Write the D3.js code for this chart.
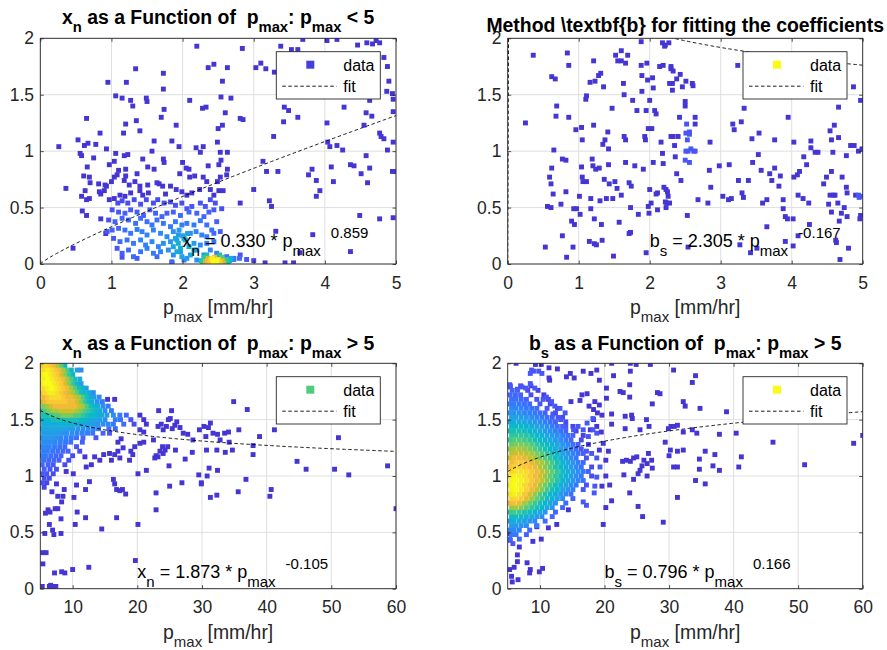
<!DOCTYPE html>
<html><head><meta charset="utf-8">
<script src="https://cdn.jsdelivr.net/npm/d3@7"></script>
<style>body{margin:0;background:#fff}svg{display:block}text{font-family:"Liberation Sans",Arial,Helvetica,sans-serif;white-space:pre}</style>
</head><body><svg id="c" width="887" height="650"></svg>
<script>
// ---------------- DATA ----------------
const yTicks = [0, 0.5, 1, 1.5, 2];
const xTicksLow = [0, 1, 2, 3, 4, 5];
const xTicksHigh = [10, 20, 30, 40, 50, 60];
const fitA = [0.330, 2.305, 1.873, 0.796];
const fitB = [0.859, -0.167, -0.105, 0.166];
const legendColor = [0.08, 1.0, 0.6, 1.0];
const annX = [2.0, 2.0, 20.0, 20.0];
const annY = [0.148, 0.148, 0.092, 0.092];
const sparseC = 0.06;

// panel 1 (x_n, p_max < 5)
const p1Sparse = [[2.20,1.93],[2.84,1.91],[3.69,1.99],[4.03,1.98],[4.17,1.99],[4.46,1.94],[4.59,1.96],[4.67,1.95],[4.72,1.98],[4.77,1.96],[3.38,1.93],[3.53,1.90],[3.62,1.90],[4.83,1.83],[4.88,1.75],[4.90,1.62],[4.87,1.53],[4.95,1.51],[4.96,1.46],[4.63,1.45],
[1.34,1.73],[1.73,1.69],[1.73,1.55],[0.95,1.61],[1.21,1.61],[2.36,1.74],[2.44,1.77],[2.63,1.74],[2.56,1.62],[3.03,1.74],[3.10,1.78],[3.17,1.73],[3.29,1.70],
[1.06,1.49],[1.15,1.47],[1.27,1.45],[1.30,1.40],[1.49,1.47],[1.50,1.44],[1.74,1.37],[2.10,1.45],[2.28,1.38],[2.33,1.39],[2.54,1.48],[2.68,1.47],[2.60,1.34],[4.27,1.39],[3.43,1.39],[3.49,1.36],[3.62,1.30],[3.42,1.26],[4.58,1.34],[4.66,1.31],[4.96,1.35],[4.55,1.23],[4.03,1.25],
[0.65,1.29],[1.35,1.27],[1.20,1.24],[1.17,1.16],[1.40,1.18],[1.70,1.30],[1.91,1.23],[2.50,1.20],[2.56,1.23],[2.81,1.29],[2.85,1.28],[0.84,1.16],[0.53,1.10],[0.62,1.05],[0.67,1.07],[0.78,1.06],[0.26,1.04],[0.93,1.02],[1.60,1.09],[1.85,1.09],[1.95,1.04],[2.19,1.03],[2.25,0.99],[2.29,1.04],[2.49,1.08],[2.53,0.99],[2.63,0.99],[3.28,1.13],[4.77,1.16],[4.79,1.13],[4.83,1.11],[4.96,1.08],[4.04,1.08],[4.07,1.04],[4.17,1.05],[4.25,1.01],[4.88,1.01],[4.58,0.96],
[0.56,0.98],[0.58,0.96],[0.75,0.94],[1.06,0.98],[1.04,0.91],[0.97,0.88],[1.18,0.96],[1.23,0.97],[1.44,0.93],[1.57,1.00],[1.73,0.93],[1.74,0.90],[2.00,0.90],[1.51,0.86],[1.60,0.84],[2.05,0.85],[2.09,0.84],[2.36,0.87],[2.51,0.88],[2.54,0.92],[2.63,0.84],[3.13,0.91],[3.18,0.82],[3.34,0.82],[3.82,0.84],[3.77,0.79],[4.09,0.86],[4.36,0.88],[4.41,0.87],[4.63,0.85],[4.51,0.80],[4.95,0.82],[4.99,0.82],[4.60,0.72],[3.88,0.74],[4.12,0.73],
[0.66,0.86],[0.61,0.78],[0.69,0.77],[0.70,0.72],[0.82,0.71],[0.91,0.70],[1.00,0.73],[1.04,0.77],[1.08,0.79],[1.10,0.83],[1.20,0.84],[1.20,0.78],[1.18,0.74],[1.25,0.70],[1.33,0.73],[1.36,0.80],[1.40,0.69],[1.51,0.70],[1.64,0.72],[1.67,0.71],[1.72,0.69],[1.83,0.69],[1.96,0.80],[2.10,0.77],[2.17,0.78],[2.29,0.77],[2.34,0.73],[2.49,0.73],[2.53,0.77],[2.62,0.79],[3.00,0.66],
[0.36,0.67],[0.63,0.65],[0.58,0.60],[0.65,0.57],[0.69,0.58],[0.83,0.64],[0.85,0.62],[0.90,0.65],[0.93,0.69],[0.97,0.57],[1.04,0.58],[1.12,0.61],[1.19,0.60],[1.27,0.63],[1.40,0.65],[1.44,0.61],[1.52,0.63],[1.76,0.62],[1.91,0.66],[1.99,0.64],[2.06,0.61],[2.13,0.63],[2.24,0.66],[2.39,0.66],[2.44,0.61],[2.51,0.65],[2.57,0.65],[2.81,0.54],[3.22,0.56],[3.25,0.51],[3.88,0.60],[3.93,0.65],[4.49,0.43],[4.77,0.40],[4.96,0.41],
[0.59,0.47],[0.65,0.43],[0.85,0.40],[0.46,0.14],[0.92,0.27],[3.31,0.29],[3.83,0.26],[3.65,0.10],[4.36,0.11],[3.16,0.01],[3.44,0.01],[3.56,0.01],[1.85,0.01]];
const p1Cluster = [
[1.09,0.54,.12],[1.15,0.56,.12],[1.23,0.54,.12],[1.32,0.57,.12],[1.41,0.53,.13],[1.49,0.57,.12],[1.59,0.54,.13],[1.65,0.57,.12],[1.74,0.54,.13],[1.83,0.55,.13],[1.90,0.52,.14],[1.99,0.54,.13],[2.06,0.49,.15],[2.13,0.51,.15],[2.25,0.54,.14],[2.32,0.51,.15],[2.39,0.57,.13],[2.46,0.54,.14],[2.55,0.49,.13],
[1.01,0.48,.14],[1.10,0.46,.16],[1.19,0.45,.17],[1.27,0.48,.16],[1.36,0.46,.17],[1.45,0.43,.18],[1.54,0.48,.17],[1.62,0.45,.18],[1.71,0.42,.19],[1.78,0.45,.18],[1.87,0.46,.18],[1.97,0.43,.2],[2.09,0.46,.19],[2.20,0.45,.19],[2.30,0.42,.2],[2.37,0.46,.18],[2.44,0.48,.16],
[0.96,0.39,.14],[1.05,0.375,.18],[1.15,0.405,.19],[1.24,0.39,.2],[1.34,0.36,.22],[1.41,0.405,.21],[1.50,0.375,.22],[1.57,0.346,.23],[1.64,0.39,.22],[1.73,0.36,.23],[1.83,0.331,.25],[1.90,0.375,.24],[1.99,0.346,.26],[2.06,0.36,.25],[2.16,0.346,.25],[2.25,0.384,.23],[2.34,0.346,.22],[2.41,0.301,.22],[2.48,0.375,.18],
[0.94,0.287,.15],[1.01,0.301,.18],[1.10,0.316,.2],[1.19,0.301,.22],[1.27,0.272,.24],[1.36,0.306,.25],[1.43,0.287,.26],[1.50,0.257,.27],[1.59,0.301,.27],[1.69,0.272,.28],[1.78,0.242,.3],[1.87,0.287,.3],[1.94,0.257,.33],[2.02,0.227,.35],[2.11,0.272,.32],[2.19,0.287,.28],[2.27,0.257,.27],[2.34,0.242,.25],[2.44,0.272,.2],[2.53,0.287,.17],
[1.03,0.227,.16],[1.12,0.198,.2],[1.22,0.213,.22],[1.31,0.183,.24],[1.41,0.213,.26],[1.48,0.168,.27],[1.57,0.198,.28],[1.66,0.154,.28],[1.73,0.183,.3],[1.83,0.198,.33],[1.92,0.213,.36],[2.16,0.183,.35],[2.25,0.168,.3],[2.34,0.183,.26],[2.44,0.198,.22],
[1.08,0.139,.15],[1.15,0.095,.17],[1.24,0.124,.2],[1.31,0.065,.2],[1.41,0.109,.23],[1.50,0.139,.25],[1.59,0.095,.24],[1.69,0.109,.26],[1.80,0.124,.3],[1.87,0.080,.3],[1.97,0.109,.35],[2.06,0.050,.33],[2.20,0.124,.33],[2.30,0.080,.3],[2.39,0.124,.27],[2.48,0.095,.25],[2.62,0.065,.22],[2.72,0.050,.2],[2.81,0.080,.15],
[1.15,0.06,.14],[1.36,0.05,.16],[1.64,0.065,.2],[1.85,0.02,.2],[2.02,0.035,.25],[2.20,0.035,.3],[2.53,0.035,.3],
[1.90,0.227,.4],[1.94,0.183,.42],[1.97,0.139,.42],[2.04,0.213,.42],[2.09,0.154,.44],[2.16,0.124,.4],[2.11,0.08,.4],[1.92,0.109,.38],[1.99,0.065,.38],[1.87,0.154,.38],[2.00,0.25,.38],[2.07,0.27,.36],[1.95,0.30,.33],
[2.26,0.03,.5],[2.30,0.06,.55],[2.32,0.02,.7],[2.36,0.05,.75],[2.38,0.01,.85],[2.40,0.04,.9],[2.43,0.02,1.0],[2.45,0.06,.8],[2.47,0.01,.95],[2.50,0.04,.9],[2.53,0.02,.85],[2.55,0.06,.6],[2.58,0.01,.7],[2.61,0.04,.55],[2.64,0.02,.5],[2.68,0.05,.4],[2.34,0.08,.5],[2.52,0.08,.5],
[2.28,0.01,.55],[2.35,0.03,.8],[2.42,0.05,.95],[2.44,0.00,.95],[2.48,0.03,1.0],[2.56,0.03,.75],[2.62,0.00,.5],[2.66,0.03,.45],
[2.72,0.04,.25],[2.80,0.05,.2],[2.90,0.04,.15],[3.00,0.03,.1]];

// panel 2 (b_s, p_max < 5)
const p2Sparse = [[0.36,1.85],[0.25,1.25],[0.53,0.15],[0.59,0.77],[0.61,0.71],[0.62,0.85],[0.65,1.01],[0.64,0.62],[0.56,0.51],[0.61,0.50],[0.62,1.66],[0.67,1.64],[0.69,1.40],[0.68,1.31],[0.75,0.53],[0.77,0.25],[0.77,0.93],[0.82,0.92],[0.82,0.64],[0.83,0.06],[0.84,1.87],[0.86,1.76],[0.86,1.30],[0.90,0.38],[0.93,0.49],[0.92,0.15],[0.94,0.35],[0.96,1.19],[0.97,0.49],[1.01,0.60],[1.02,0.44],[1.04,1.21],[1.05,1.10],[1.05,0.77],[1.04,0.86],[1.06,0.73],[1.11,0.73],[1.10,1.46],[1.11,1.49],[1.16,1.61],[1.17,0.58],[1.17,0.49],[1.15,0.20],[1.19,0.93],[1.20,0.87],[1.21,1.80],[1.21,1.23],[1.22,0.40],[1.22,0.18],[1.23,1.62],[1.24,0.84],[1.25,0.17],[1.28,1.67],[1.29,0.85],[1.31,1.69],[1.30,0.56],[1.32,0.35],[1.33,0.21],[1.34,1.06],[1.35,1.57],[1.37,1.10],[1.36,0.75],[1.39,0.58],[1.41,1.17],[1.43,0.71],[1.42,0.88],[1.42,1.02],[1.47,1.38],[1.48,0.58],[1.49,0.07],[1.51,0.73],[1.54,0.67],[1.52,1.85],[1.55,1.80],[1.60,1.89],[1.60,1.80],[1.69,1.85],[1.66,1.78],[1.63,1.60],[1.64,1.50],[1.64,1.13],[1.66,1.10],[1.57,0.37],[1.60,0.61],[1.66,0.90],[1.71,0.72],[1.74,0.69],[1.73,0.50],[1.73,0.28],[1.71,0.27],[1.76,1.45],[1.79,0.87],[1.82,1.36],[1.84,0.44],[1.88,1.97],[1.88,1.76],[1.89,1.53],[1.89,1.67],[1.91,0.84],[1.93,1.13],[1.94,1.10],[1.95,1.36],[1.96,1.78],[1.97,1.63],[1.95,0.10],[1.98,1.20],[2.00,1.45],[1.98,0.51],[1.99,0.45],[2.00,0.66],[2.03,1.20],[2.04,1.65],[2.05,1.56],[2.05,0.90],[2.02,0.54],[2.07,1.36],[2.09,1.33],[2.11,0.48],[2.09,0.62],[2.11,0.63],[2.14,1.75],[2.16,1.08],[2.18,0.98],[2.19,0.89],[2.18,1.96],[2.22,1.94],[2.27,1.96],[2.19,1.76],[2.21,1.93],[2.20,0.68],[2.23,0.66],[2.25,0.64],[2.23,0.50],[2.22,0.55],[2.24,0.54],[2.26,0.60],[2.28,0.54],[2.30,1.75],[2.30,1.73],[2.33,1.71],[2.32,1.60],[2.32,1.54],[2.28,1.60],[2.38,1.64],[2.43,1.68],[2.46,1.57],[2.51,1.62],[2.60,1.60],[2.61,1.58],[2.30,1.13],[2.33,1.13],[2.40,1.13],[2.35,1.05],[2.36,0.95],[2.38,0.80],[2.44,0.74],[2.42,1.30],[2.50,1.44],[2.50,1.40],[2.53,0.43],[2.54,0.15],[2.64,1.30],[2.64,1.24],[2.68,0.57],[2.82,0.54],[2.84,0.83],[2.85,1.08],[2.86,0.68],[2.98,0.87],[3.03,0.60],[3.11,0.57],[3.12,0.88],[3.15,0.58],[3.17,1.24],[3.19,1.19],[3.24,1.76],[3.25,0.74],[3.27,0.17],[3.29,1.26],[3.30,0.63],[3.32,0.59],[3.33,1.38],[3.39,0.74],[3.42,0.10],[3.44,1.11],[3.45,0.90],[3.51,0.14],[3.53,0.97],[3.54,1.16],[3.57,0.83],[3.59,0.54],[3.65,0.33],[3.65,0.57],[3.69,0.80],[3.72,0.74],[3.76,0.85],[3.76,1.10],[3.82,0.69],[3.84,0.78],[3.88,0.57],[3.88,0.49],[3.91,0.42],[3.94,0.40],[3.95,1.30],[4.02,0.40],[3.91,0.20],[4.02,0.16],[4.03,1.08],[4.03,0.77],[4.08,0.79],[4.11,0.82],[4.09,0.61],[4.09,0.25],[4.16,0.58],[4.17,0.95],[4.21,0.88],[4.24,0.54],[4.25,0.35],[4.27,1.09],[4.27,1.03],[4.33,0.99],[4.37,0.99],[4.45,0.71],[4.49,0.77],[4.52,0.53],[4.54,1.18],[4.56,1.10],[4.56,0.82],[4.54,0.61],[4.59,0.61],[4.61,0.61],[4.56,0.46],[4.60,1.23],[4.58,0.99],[4.62,0.21],[4.63,0.19],[4.66,1.39],[4.66,1.12],[4.65,0.54],[4.67,0.38],[4.68,0.04],[4.70,0.45],[4.71,0.77],[4.74,0.50],[4.77,0.96],[4.77,0.68],[4.78,0.63],[4.78,0.42],[4.80,0.14],[4.83,1.05],[4.87,1.57],[4.88,1.05],[4.90,0.61],[4.94,1.00],[4.97,1.45],[4.97,0.43],[4.99,1.02],[4.96,0.40]];
const p2Light = [[2.53,1.10],[2.51,1.16],[2.56,1.15],[2.56,1.17],[2.51,1.00],[2.54,1.00],[2.58,1.02],[2.62,1.00],[2.64,1.00],[2.50,0.92],[2.56,0.90],[2.52,1.24],[4.94,0.61],[4.95,0.59],[4.98,0.60]];

// panel 3 (x_n, p_max > 5)
const p3Sparse = [[34.9,1.66],[37.0,1.59],[23.3,1.58],[25.3,1.58],[15.4,1.68],[16.5,1.68],[41.2,1.41],[35.7,1.41],[51.1,1.34],[38.9,1.35],[37.9,1.27],[37.9,1.19],[44.7,1.13],[46.1,1.06],[50.5,1.06],[52.7,1.01],[58.7,1.09],[60.0,0.71],[36.8,0.97],[40.7,0.88],[40.5,0.82],[35.6,0.86],[32.3,0.83],[31.3,0.81],[29.9,0.94],[29.9,0.93],[29.5,1.01],[30.8,1.00],[31.1,1.07],[32.4,1.05],[26.9,0.94],[25.0,0.91],[22.9,0.85],[22.9,0.70],[21.4,1.05],[20.1,1.02],[24.9,1.09],[20.1,0.57],[19.7,0.25],[14.5,0.53],[16.8,0.63],[12.5,0.19],[10.0,0.17],[8.8,0.14],[8.3,0.15],[7.2,0.14],[5.3,0.02],[6.4,0.02],[6.9,0.02],[7.4,0.02],[6.6,0.03],[5.4,0.22],[5.3,0.32],[5.9,0.32],[5.7,0.49],[7.1,0.48],[8.2,0.49],[6.9,0.52],[6.4,0.57],[8.2,0.62],[5.8,0.67],[6.2,0.70],[6.5,0.68],[7.3,0.71],[7.7,0.71],[10.4,0.57],[10.7,0.68],[12.0,0.63],[10.2,0.81],[8.3,0.77],[8.5,0.82],[7.7,0.82],[6.8,0.86],[8.7,0.88],[7.5,0.93],[10.6,0.92],[12.0,0.88],[12.6,0.95],[16.3,0.97],[16.5,0.93],[16.8,0.88],[17.3,0.87],[17.7,0.88],[18.2,0.84],[10.1,1.02],[9.0,1.04],
[22.5,1.32],[22.9,1.18],[23.2,1.17],[23.5,1.22],[23.9,1.26],[24.0,1.20],[24.3,1.23],[24.7,1.26],[24.0,1.41],[23.2,1.44],[23.7,1.46],[24.5,1.44],[24.8,1.50],[25.1,1.51],[25.4,1.42],[25.8,1.45],[26.1,1.48],[26.6,1.43],[27.1,1.38],[27.8,1.37],[28.6,1.32],[29.6,1.41],[30.3,1.44],[31.0,1.43],[31.3,1.47],[30.6,1.35],[31.7,1.38],[32.4,1.37],[32.8,1.32],[33.5,1.38],[34.1,1.39],[34.2,1.30],[34.7,1.23],[33.6,1.21],[32.3,1.23],[30.7,1.23],[28.5,1.21],[27.4,1.15],[25.9,1.23],[22.7,1.16],
[19.0,1.22],[18.8,1.14],[19.3,1.19],[19.6,1.26],[20.4,1.29],[21.0,1.30],[20.4,1.41],[21.0,1.39],[20.4,1.54],[21.0,1.50],[21.4,1.46],
[15.7,1.20],[16.5,1.19],[17.0,1.22],[17.3,1.16],[16.0,1.14],[14.8,1.19],[14.2,1.14],[13.4,1.17],[12.9,1.10],[12.1,1.08],[11.9,1.17],[17.0,1.30],[17.8,1.25],[17.5,1.33]];
// dense part of panel 3: [y, x, c, x, c, ...]
const p3Rows = [
[1.98, 5.2,.85, 5.8,.9, 6.4,.85, 7.0,.8, 7.6,.7, 8.2,.6, 8.8,.45],
[1.94, 5.5,.9, 6.1,.95, 6.7,.9, 7.3,.85, 7.9,.8, 8.5,.7, 9.1,.6, 9.8,.45, 10.7,.35, 11.3,.3],
[1.90, 5.2,.95, 5.8,1, 6.4,.95, 7.0,.9, 7.6,.85, 8.2,.75, 8.8,.65, 9.4,.55, 10.0,.45],
[1.86, 5.5,.95, 6.1,1, 6.7,.95, 7.3,.9, 7.9,.85, 8.5,.8, 9.1,.7, 9.7,.6, 10.3,.5, 11.1,.4],
[1.82, 5.2,.95, 5.8,1, 6.4,1, 7.0,.95, 7.6,.9, 8.2,.85, 8.8,.75, 9.4,.65, 10.0,.55, 10.6,.45, 11.3,.35],
[1.78, 5.5,.9, 6.1,.95, 6.7,1, 7.3,.95, 7.9,.9, 8.5,.85, 9.1,.8, 9.7,.7, 10.3,.6, 10.9,.5, 11.5,.45, 12.1,.35],
[1.74, 5.2,.85, 5.8,.9, 6.4,.95, 7.0,.95, 7.6,.9, 8.2,.85, 8.8,.8, 9.4,.75, 10.0,.7, 10.6,.6, 11.2,.5, 11.8,.45, 12.5,.4, 13.2,.3],
[1.70, 5.5,.8, 6.1,.85, 6.7,.9, 7.3,.9, 7.9,.9, 8.5,.85, 9.1,.8, 9.7,.8, 10.3,.75, 10.9,.7, 11.5,.6, 12.1,.5, 12.7,.4, 13.3,.35, 14.1,.3],
[1.66, 5.2,.75, 5.8,.8, 6.4,.85, 7.0,.85, 7.6,.85, 8.2,.85, 8.8,.85, 9.4,.8, 10.0,.8, 10.6,.75, 11.2,.65, 11.8,.55, 12.4,.45, 13.0,.4, 13.8,.3, 14.6,.25],
[1.62, 5.5,.65, 6.1,.7, 6.7,.75, 7.3,.8, 7.9,.8, 8.5,.8, 9.1,.8, 9.7,.8, 10.3,.8, 10.9,.75, 11.5,.7, 12.1,.6, 12.7,.5, 13.3,.45, 13.9,.4, 14.7,.3, 15.5,.25],
[1.58, 5.2,.55, 5.8,.6, 6.4,.65, 7.0,.7, 7.6,.7, 8.2,.75, 8.8,.75, 9.4,.75, 10.0,.75, 10.6,.7, 11.2,.65, 11.8,.6, 12.4,.55, 13.0,.5, 13.6,.45, 14.2,.4, 15.0,.3, 16.0,.25],
[1.54, 5.5,.5, 6.1,.5, 6.7,.55, 7.3,.6, 7.9,.6, 8.5,.65, 9.1,.65, 9.7,.65, 10.3,.6, 10.9,.6, 11.5,.55, 12.1,.5, 12.7,.45, 13.3,.45, 13.9,.4, 14.5,.4, 15.3,.35, 16.3,.3, 17.3,.25, 18.3,.2],
[1.50, 5.2,.45, 5.8,.45, 6.4,.45, 7.0,.5, 7.6,.5, 8.2,.5, 8.8,.5, 9.4,.5, 10.0,.5, 10.6,.5, 11.2,.45, 11.8,.45, 12.4,.4, 13.0,.4, 13.6,.38, 14.2,.35, 15.0,.3, 16.6,.25, 17.4,.22, 19.0,.15],
[1.46, 5.5,.4, 6.1,.4, 6.7,.4, 7.3,.4, 7.9,.42, 8.5,.42, 9.1,.42, 9.7,.42, 10.3,.4, 10.9,.4, 11.5,.4, 12.1,.38, 12.7,.35, 13.3,.35, 13.9,.32, 14.7,.3, 15.5,.28, 16.3,.25, 17.9,.2, 19.5,.12],
[1.42, 5.2,.38, 5.8,.38, 6.4,.38, 7.0,.38, 7.6,.38, 8.2,.38, 8.8,.36, 9.4,.35, 10.0,.35, 10.8,.32, 11.6,.3, 12.4,.3, 13.2,.28, 14.0,.25, 15.6,.2, 16.6,.18],
[1.38, 5.5,.35, 6.1,.35, 6.7,.35, 7.3,.35, 7.9,.34, 8.5,.32, 9.1,.3, 9.9,.3, 10.7,.28, 11.5,.26, 12.3,.25, 13.1,.22, 14.7,.18, 15.7,.15],
[1.34, 5.2,.32, 5.8,.33, 6.4,.33, 7.0,.32, 7.6,.3, 8.2,.28, 9.0,.26, 9.8,.25, 10.6,.22, 11.6,.2, 13.6,.15],
[1.30, 5.5,.3, 6.1,.3, 6.7,.3, 7.3,.28, 8.1,.26, 8.9,.24, 9.7,.22, 11.5,.18],
[1.26, 5.2,.28, 5.8,.28, 6.4,.27, 7.2,.25, 8.0,.22, 8.8,.2, 10.6,.15],
[1.22, 5.5,.26, 6.1,.26, 6.9,.24, 7.7,.22, 8.5,.2, 9.3,.18, 11.1,.12],
[1.18, 5.2,.25, 5.8,.24, 6.6,.22, 7.4,.2, 8.2,.18, 10.0,.12],
[1.14, 5.5,.22, 6.3,.2, 7.1,.2, 7.9,.18, 9.4,.12],
[1.10, 5.3,.2, 6.2,.18, 7.0,.16, 8.8,.12],
[1.06, 5.6,.18, 6.5,.16, 7.5,.14],
[1.02, 5.3,.16, 6.0,.15, 7.0,.12],
[0.98, 5.6,.14, 6.4,.12],
[0.94, 5.3,.12, 6.0,.1],
[0.90, 5.6,.1]];

// panel 4 (b_s, p_max > 5)
const p4Sparse = [[6.3,2.0],[9.3,1.99],[10.2,1.99],[11.4,1.96],[12.7,1.95],[11.4,1.87],[11.5,1.85],[14.1,1.88],[14.7,1.91],[15.3,1.87],[16.7,1.93],[17.9,1.91],[18.8,1.94],[19.2,1.85],[20.3,1.78],[21.4,1.89],[21.1,2.0],[24.0,2.0],[24.0,1.93],[24.9,1.99],[27.1,1.99],[30.7,1.94],[34.1,1.89],[33.6,1.83],[23.9,1.81],[22.4,1.75],[22.9,1.74],[23.9,1.70],[20.3,1.69],[19.6,1.54],[21.1,1.55],[21.1,1.46],[23.2,1.53],[24.2,1.54],[24.3,1.51],[26.5,1.50],[26.9,1.44],[23.2,1.42],[25.5,1.41],[27.4,1.64],[28.2,1.74],[28.6,1.73],[32.2,1.66],[32.5,1.62],[34.8,1.60],[38.9,1.57],[29.4,1.30],[29.9,1.42],[30.3,1.44],[30.8,1.44],[31.3,1.45],[32.2,1.39],[33.6,1.41],[34.3,1.38],[37.8,1.37],[40.4,1.38],[46.1,1.30],[58.6,1.29],[60.0,1.36],[51.0,1.10],[41.2,1.17],[40.8,1.08],[37.8,1.05],[36.8,1.09],[37.1,1.19],[35.6,1.22],[34.7,1.15],[34.7,1.06],[34.1,0.96],[35.6,0.93],[31.3,1.22],[32.2,1.23],[30.0,1.18],[30.2,1.23],[30.7,1.08],[31.3,1.08],[31.3,0.81],[29.1,0.59],[25.9,0.64],[25.2,0.73],[23.9,0.85],[24.5,0.97],[23.0,1.01],[25.2,1.02],[25.5,1.05],[25.8,1.09],[26.1,1.14],[26.6,1.11],[26.8,1.20],[27.3,1.14],[27.4,1.07],[26.6,1.00],[25.0,1.17],[24.5,1.16],[24.0,1.13],[23.4,1.14],[22.8,1.13],[19.8,0.57],[20.2,0.72],[21.1,0.78],[19.6,0.91],[20.8,0.92],[20.2,1.00],[20.2,1.14],[20.6,1.22],
[14.8,1.66],[16.2,1.67],[16.5,1.72],[17.3,1.73],[17.6,1.62],[18.5,1.66],[18.3,1.59],[18.9,1.56],[19.2,1.63],[18.3,1.50],[17.8,1.41],[18.8,1.44],[19.5,1.39],[19.8,1.29],[19.2,1.23],
[5.3,0.17],[6.0,0.19],[5.6,0.11],[5.7,0.06],[6.6,0.08],[6.5,0.24],[6.5,0.30],[6.8,0.37],[8.0,0.23],[8.4,0.14],[8.5,0.17],[9.9,0.15],[10.4,0.18],[8.9,0.42],[10.2,0.44],[5.4,0.43],[5.1,0.49],[9.5,0.55],[11.3,0.54],[12.6,0.57],[14.4,0.70]];
const p4Light = [[16.7,0.77],[17.2,0.74],[18.5,0.91],[18.4,0.85],[18.8,0.99],[19.3,1.08],[18.8,1.16],[18.0,1.20],[17.2,1.22],[17.5,1.35],[16.7,1.41],[15.9,1.44],[15.2,1.41],[18.2,1.41],[18.8,1.38],[17.3,1.47],[18.2,1.51],[5.3,1.81],[5.4,1.79],[6.5,1.77],[7.2,1.79],[7.8,1.78],[8.5,1.82],[9.2,1.78],[8.7,1.94],[9.0,1.93],[9.8,1.93],[8.5,1.91],[10.3,1.91],[10.5,1.68],[11.0,1.70],[11.8,1.66],[12.3,1.62],[13.1,1.60],[13.9,1.56],[13.2,1.50],[14.0,1.44],[12.0,1.55],[12.8,1.52]];
const p4Rows = [
[1.80, 5.4,.15, 7.0,.12, 8.6,.1],
[1.76, 5.7,.18, 6.5,.18, 8.1,.12, 9.7,.1],
[1.72, 5.4,.2, 6.2,.2, 7.0,.18, 8.6,.12, 10.6,.08],
[1.68, 5.6,.22, 6.3,.22, 7.1,.2, 7.9,.18, 9.5,.14, 11.3,.1],
[1.64, 5.3,.25, 6.0,.25, 6.8,.24, 7.6,.22, 8.4,.2, 10.0,.15, 11.6,.1],
[1.60, 5.6,.28, 6.3,.28, 7.1,.27, 7.9,.25, 8.7,.23, 9.5,.2, 11.1,.15, 12.7,.1],
[1.56, 5.3,.32, 6.0,.32, 6.8,.3, 7.6,.28, 8.4,.26, 9.2,.24, 10.0,.22, 10.8,.18, 12.4,.12],
[1.52, 5.6,.36, 6.3,.36, 7.1,.35, 7.9,.33, 8.7,.3, 9.5,.28, 10.3,.25, 11.1,.22, 11.9,.18, 13.5,.12],
[1.48, 5.3,.4, 6.0,.4, 6.8,.4, 7.6,.38, 8.4,.35, 9.2,.32, 10.0,.3, 10.8,.26, 11.6,.22, 12.4,.18, 14.0,.12],
[1.44, 5.6,.45, 6.3,.46, 7.1,.45, 7.9,.43, 8.7,.4, 9.5,.37, 10.3,.34, 11.1,.3, 11.9,.26, 12.7,.22, 13.5,.18, 15.1,.1],
[1.40, 5.3,.5, 6.0,.5, 6.8,.5, 7.6,.48, 8.4,.45, 9.2,.42, 10.0,.38, 10.8,.34, 11.6,.3, 12.4,.26, 13.2,.22, 14.0,.18, 15.6,.1],
[1.36, 5.6,.54, 6.3,.55, 7.1,.55, 7.9,.53, 8.7,.5, 9.5,.46, 10.3,.42, 11.1,.38, 11.9,.34, 12.7,.3, 13.5,.26, 14.3,.22, 15.1,.18, 16.7,.1],
[1.32, 5.3,.58, 6.0,.6, 6.8,.6, 7.6,.58, 8.4,.55, 9.2,.5, 10.0,.46, 10.8,.42, 11.6,.38, 12.4,.34, 13.2,.3, 14.0,.25, 14.8,.2, 16.4,.12],
[1.28, 5.6,.62, 6.3,.65, 7.1,.65, 7.9,.63, 8.7,.6, 9.5,.55, 10.3,.5, 11.1,.46, 11.9,.42, 12.7,.38, 13.5,.33, 14.3,.28, 15.1,.22, 15.9,.18, 17.5,.1],
[1.24, 5.3,.68, 6.0,.7, 6.8,.7, 7.6,.68, 8.4,.65, 9.2,.6, 10.0,.55, 10.8,.5, 11.6,.45, 12.4,.4, 13.2,.35, 14.0,.3, 14.8,.25, 15.6,.2, 16.4,.15],
[1.20, 5.6,.72, 6.3,.75, 7.1,.75, 7.9,.72, 8.7,.7, 9.5,.65, 10.3,.6, 11.1,.55, 11.9,.5, 12.7,.44, 13.5,.38, 14.3,.32, 15.1,.27, 15.9,.22, 16.7,.17],
[1.16, 5.3,.76, 6.0,.8, 6.8,.8, 7.6,.78, 8.4,.74, 9.2,.7, 10.0,.65, 10.8,.6, 11.6,.54, 12.4,.48, 13.2,.42, 14.0,.35, 14.8,.3, 15.6,.24, 17.2,.14],
[1.12, 5.6,.8, 6.3,.85, 7.1,.85, 7.9,.82, 8.7,.78, 9.5,.74, 10.3,.7, 11.1,.64, 11.9,.58, 12.7,.5, 13.5,.44, 14.3,.38, 15.1,.32, 15.9,.26, 16.7,.2],
[1.08, 5.3,.84, 6.0,.88, 6.8,.88, 7.6,.85, 8.4,.82, 9.2,.78, 10.0,.72, 10.8,.66, 11.6,.6, 12.4,.52, 13.2,.46, 14.0,.4, 14.8,.34, 15.6,.28, 16.4,.22, 18.0,.12],
[1.04, 5.6,.88, 6.3,.92, 7.1,.92, 7.9,.9, 8.7,.85, 9.5,.8, 10.3,.74, 11.1,.68, 11.9,.62, 12.7,.55, 13.5,.48, 14.3,.42, 15.1,.35, 15.9,.3, 16.7,.24, 17.5,.18],
[1.00, 5.3,.93, 6.0,.97, 6.8,.96, 7.6,.92, 8.4,.86, 9.2,.8, 10.0,.75, 10.8,.68, 11.6,.62, 12.4,.55, 13.2,.48, 14.0,.42, 14.8,.35, 15.6,.3, 16.4,.24, 18.0,.12],
[0.96, 5.6,.97, 6.3,1, 7.1,.97, 7.9,.92, 8.7,.85, 9.5,.8, 10.3,.74, 11.1,.66, 11.9,.6, 12.7,.52, 13.5,.45, 14.3,.4, 15.1,.33, 15.9,.28, 16.7,.22],
[0.92, 5.3,.98, 6.0,1, 6.8,.97, 7.6,.9, 8.4,.84, 9.2,.78, 10.0,.7, 10.8,.63, 11.6,.56, 12.4,.48, 13.2,.42, 14.0,.36, 14.8,.3, 15.6,.24, 17.2,.14],
[0.88, 5.6,.97, 6.3,1, 7.1,.95, 7.9,.88, 8.7,.8, 9.5,.74, 10.3,.66, 11.1,.58, 11.9,.5, 12.7,.44, 13.5,.38, 14.3,.32, 15.1,.26, 16.7,.15],
[0.84, 5.3,.93, 6.0,.96, 6.8,.92, 7.6,.85, 8.4,.76, 9.2,.68, 10.0,.6, 10.8,.52, 11.6,.46, 12.4,.4, 13.2,.34, 14.0,.28, 14.8,.22],
[0.80, 5.6,.88, 6.3,.9, 7.1,.86, 7.9,.78, 8.7,.7, 9.5,.62, 10.3,.55, 11.1,.48, 11.9,.42, 12.7,.36, 13.5,.3, 15.1,.18],
[0.76, 5.3,.8, 6.0,.82, 6.8,.78, 7.6,.7, 8.4,.63, 9.2,.56, 10.0,.5, 10.8,.44, 11.6,.38, 12.4,.32, 14.0,.2],
[0.72, 5.6,.68, 6.3,.7, 7.1,.66, 7.9,.6, 8.7,.55, 9.5,.5, 10.3,.44, 11.1,.38, 11.9,.32, 13.5,.2],
[0.68, 5.3,.56, 6.0,.58, 6.8,.56, 7.6,.52, 8.4,.48, 9.2,.43, 10.0,.38, 10.8,.32, 12.4,.2],
[0.64, 5.6,.46, 6.3,.48, 7.1,.46, 7.9,.42, 8.7,.38, 9.5,.34, 10.3,.3, 11.9,.2],
[0.60, 5.3,.38, 6.0,.4, 6.8,.38, 7.6,.35, 8.4,.32, 9.2,.28, 10.8,.2],
[0.56, 5.6,.33, 6.3,.33, 7.1,.32, 7.9,.3, 9.5,.24],
[0.52, 5.3,.28, 6.0,.28, 6.8,.26, 8.4,.2],
[0.48, 5.6,.24, 6.3,.24, 7.9,.18],
[0.44, 5.3,.2, 6.8,.18],
[0.40, 5.8,.15]];

// parula colormap stops (MATLAB)
const parula = [[0.2422,0.1504,0.6603],[0.2706,0.2147,0.8364],[0.2813,0.3006,0.9414],[0.2699,0.3892,0.9906],[0.1963,0.4847,0.9892],[0.1687,0.5703,0.9359],[0.1248,0.6459,0.8883],[0.0297,0.7082,0.8163],[0.0964,0.7500,0.7120],[0.2161,0.7843,0.5923],[0.3909,0.8029,0.4354],[0.6174,0.7876,0.2612],[0.8203,0.7498,0.1535],[0.9728,0.7298,0.2394],[0.9892,0.8136,0.1885],[0.9597,0.9135,0.1423],[0.9769,0.9839,0.0805]];

// ---------------- BUILD ----------------
const pts = (arr, c) => arr.map(d => ({x:d[0], y:d[1], c: d.length > 2 ? d[2] : c}));
const rows = arr => arr.flatMap(r => { const o=[]; for (let i=1;i<r.length;i+=2) o.push({x:r[i], y:r[0], c:r[i+1]}); return o; });

const panelData = [
  pts(p1Sparse, sparseC).concat(pts(p1Cluster)),
  pts(p2Sparse, sparseC).concat(pts(p2Light, 0.15)),
  pts(p3Sparse, sparseC).concat(rows(p3Rows)),
  pts(p4Sparse, sparseC).concat(pts(p4Light, 0.15), rows(p4Rows))
];

const sub = t => ({t, sub:true});
const sup = (t, dx) => ({t, sup:true, dx});
const titles = [
  [{t:'x'}, sub('n'), {t:' as a Function of  p'}, sub('max'), {t:': p'}, sub('max'), {t:' < 5'}],
  [{t:'Method \\textbf{b} for fitting the coefficients'}],
  [{t:'x'}, sub('n'), {t:' as a Function of  p'}, sub('max'), {t:': p'}, sub('max'), {t:' > 5'}],
  [{t:'b'}, sub('s'), {t:' as a Function of  p'}, sub('max'), {t:': p'}, sub('max'), {t:' > 5'}]
];
const annText = [
  [{t:'x'}, sub('n'), {t:' = 0.330 * p'}, sub('max'), sup('0.859', 10)],
  [{t:'b'}, sub('s'), {t:' = 2.305 * p'}, sub('max'), sup('-0.167', 10)],
  [{t:'x'}, sub('n'), {t:' = 1.873 * p'}, sub('max'), sup('-0.105', 10)],
  [{t:'b'}, sub('s'), {t:' = 0.796 * p'}, sub('max'), sup('0.166', 10)]
];
const xLabel = [{t:'p'}, sub('max'), {t:' [mm/hr]'}];

const layout = [
  {L:40.3, R:396, T:38.3, B:264, xd:[0,5], xt:xTicksLow, titleY:24},
  {L:507.7, R:862.7, T:38.3, B:264, xd:[0,5], xt:xTicksLow, titleY:32.3},
  {L:40.3, R:396, T:363.3, B:588.7, xd:[5,60], xt:xTicksHigh, titleY:349.5},
  {L:507.7, R:862.7, T:363.3, B:588.7, xd:[5,60], xt:xTicksHigh, titleY:349.5}
];

const color = d3.scaleLinear()
  .domain(parula.map((d,i) => i/(parula.length-1)))
  .range(parula.map(d => d3.rgb(d[0]*255, d[1]*255, d[2]*255).toString()))
  .interpolate(d3.interpolateRgb).clamp(true);

const svg = d3.select('#c');
const AX = '#262626', GRID = '#dfdfdf';

function rich(g, x, y, segs, o) {
  const t = g.append('text').attr('x', x).attr('y', y)
    .attr('font-size', o.size).attr('font-weight', o.weight || 'normal')
    .attr('text-anchor', o.anchor || 'start').attr('fill', o.fill || '#000');
  let cur = 0;
  segs.forEach(s => {
    const sh = s.sub ? o.subShift : (s.sup ? -o.supShift : 0);
    const ts = t.append('tspan').text(s.t).attr('dy', sh - cur);
    if (s.sub || s.sup) ts.attr('font-size', o.subSize);
    if (s.dx) ts.attr('dx', s.dx);
    cur = sh;
  });
  return t;
}

layout.forEach((P, i) => {
  const g = svg.append('g');
  const x = d3.scaleLinear().domain(P.xd).range([P.L, P.R]);
  const y = d3.scaleLinear().domain([0, 2]).range([P.B, P.T]);

  g.append('g').selectAll('line').data(P.xt).join('line')
    .attr('x1', d => x(d)).attr('x2', d => x(d)).attr('y1', P.T).attr('y2', P.B)
    .attr('stroke', GRID).attr('stroke-width', 1);
  g.append('g').selectAll('line').data(yTicks).join('line')
    .attr('x1', P.L).attr('x2', P.R).attr('y1', d => y(d)).attr('y2', d => y(d))
    .attr('stroke', GRID).attr('stroke-width', 1);

  const cid = 'clip' + i;
  svg.append('clipPath').attr('id', cid).append('rect')
    .attr('x', P.L).attr('y', P.T).attr('width', P.R - P.L).attr('height', P.B - P.T);
  const plot = g.append('g').attr('clip-path', `url(#${cid})`);

  const s = 4.9;
  const data = panelData[i].slice().sort((a, b) => a.c - b.c);
  plot.append('g').selectAll('rect').data(data).join('rect')
    .attr('x', d => x(d.x) - s/2).attr('y', d => y(d.y) - s/2)
    .attr('width', s).attr('height', s).attr('fill', d => color(d.c));

  const xsFit = d3.range(0, 201).map(k => P.xd[0] + (P.xd[1] - P.xd[0]) * k / 200).filter(v => v > 0);
  const fit = [{x:P.xd[0], y: P.xd[0] > 0 ? fitA[i] * Math.pow(P.xd[0], fitB[i]) : 0}]
    .concat(xsFit.map(v => ({x:v, y: fitA[i] * Math.pow(v, fitB[i])})));
  plot.append('path').datum(fit)
    .attr('d', d3.line().x(d => x(d.x)).y(d => y(d.y)))
    .attr('fill', 'none').attr('stroke', '#000').attr('stroke-width', 0.9)
    .attr('stroke-dasharray', '3.5,2.5');

  const tick = 3.5;
  const xa = g.append('g').attr('transform', `translate(0,${P.B})`)
    .call(d3.axisBottom(x).tickValues(P.xt).tickSize(-tick).tickSizeOuter(0).tickPadding(12.3).tickFormat(d => String(d)));
  const ya = g.append('g').attr('transform', `translate(${P.L},0)`)
    .call(d3.axisLeft(y).tickValues(yTicks).tickSize(-tick).tickSizeOuter(0).tickPadding(6.3).tickFormat(d => String(d)));
  const xt2 = g.append('g').attr('transform', `translate(0,${P.T})`)
    .call(d3.axisTop(x).tickValues(P.xt).tickSize(-tick).tickSizeOuter(0).tickFormat(''));
  const yt2 = g.append('g').attr('transform', `translate(${P.R},0)`)
    .call(d3.axisRight(y).tickValues(yTicks).tickSize(-tick).tickSizeOuter(0).tickFormat(''));
  [xa, ya, xt2, yt2].forEach(a => {
    a.select('.domain').remove();
    a.selectAll('line').attr('stroke', AX).attr('stroke-width', 0.8);
    a.selectAll('text').attr('fill', AX).attr('font-size', 17.5)
      .attr('font-family', '"Liberation Sans", Arial, Helvetica, sans-serif');
  });
  g.append('rect').attr('x', P.L).attr('y', P.T).attr('width', P.R - P.L).attr('height', P.B - P.T)
    .attr('fill', 'none').attr('stroke', AX).attr('stroke-width', 0.9);

  rich(g, x(annX[i]), y(annY[i]), annText[i], {size:18, subSize:15, subShift:9, supShift:9});

  const lx = P.R - 15.7 - 104, ly = P.T + 13.4;
  const lg = g.append('g');
  lg.append('rect').attr('x', lx).attr('y', ly).attr('width', 104).attr('height', 47.3)
    .attr('fill', '#fff').attr('stroke', AX).attr('stroke-width', 0.9);
  lg.append('rect').attr('x', lx + 30).attr('y', ly + 9).attr('width', 8).attr('height', 8)
    .attr('fill', color(legendColor[i]));
  lg.append('line').attr('x1', lx + 6).attr('x2', lx + 60.4).attr('y1', ly + 34.5).attr('y2', ly + 34.5)
    .attr('stroke', '#000').attr('stroke-width', 0.9).attr('stroke-dasharray', '3.5,2.5');
  lg.append('text').attr('x', lx + 67).attr('y', ly + 19.5).attr('font-size', 16).text('data');
  lg.append('text').attr('x', lx + 67).attr('y', ly + 40.5).attr('font-size', 16).text('fit');

  rich(g, (P.L + P.R) / 2, P.titleY, titles[i], {size:19.4, subSize:14.8, subShift:8, supShift:8, weight:'bold', anchor:'middle'});
  rich(g, (P.L + P.R) / 2, P.B + 50, xLabel, {size:19.4, subSize:15, subShift:8, supShift:8, anchor:'middle', fill:AX});
});
</script></body></html>
